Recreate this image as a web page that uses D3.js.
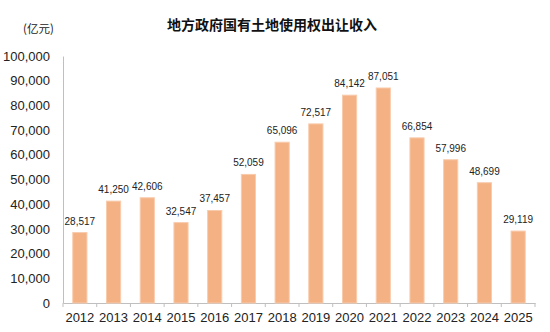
<!DOCTYPE html>
<html><head><meta charset="utf-8">
<script src="https://cdn.jsdelivr.net/npm/d3@7"></script>
<style>body{margin:0;background:#fff}svg{display:block}</style>
</head><body>
<script>
const years = ["2012","2013","2014","2015","2016","2017","2018","2019","2020","2021","2022","2023","2024","2025"];
const values = [28517,41250,42606,32547,37457,52059,65096,72517,84142,87051,66854,57996,48699,29119];
const yTicks = [0,10000,20000,30000,40000,50000,60000,70000,80000,90000,100000];
const title = "地方政府国有土地使用权出让收入";
const unit = "(亿元)";

const W=550,H=332;
const svg=d3.select("body").append("svg").attr("width",W).attr("height",H);
const x=d3.scaleBand().domain(years).range([63,535]).paddingInner(0.58).paddingOuter(0.29);
const y=d3.scaleLinear().domain([0,100000]).range([303,56]);
const font="Arial, 'Liberation Sans', sans-serif";
const cjk="'Noto Sans CJK SC', sans-serif";

svg.append("text").attr("x",272).attr("y",30).attr("text-anchor","middle")
  .attr("font-family",cjk).attr("font-weight","bold").attr("font-size",14).attr("fill","#111").text(title);
svg.append("text").attr("x",23).attr("y",33)
  .attr("font-family",cjk).attr("font-size",11.5).attr("fill","#222").text(unit);

// y axis
const ya=svg.append("g").attr("transform","translate(63,0)")
  .call(d3.axisLeft(y).tickValues(yTicks).tickSize(0).tickPadding(13).tickFormat(d3.format(",")));
ya.select(".domain").attr("stroke","#bfbfbf");
ya.selectAll("text").attr("font-family",font).attr("font-size",13).attr("fill","#222");

// x axis
const xa=svg.append("g").attr("transform","translate(0,303)")
  .call(d3.axisBottom(x).tickSize(0).tickPadding(10));
xa.select(".domain").attr("stroke","#bfbfbf");
xa.selectAll("text").attr("font-family",font).attr("font-size",13).attr("fill","#222");
const step=x.step();
xa.selectAll(".sep").data(d3.range(years.length+1)).enter().append("line")
  .attr("x1",i=>63+i*step).attr("x2",i=>63+i*step).attr("y1",0).attr("y2",4).attr("stroke","#bfbfbf");

svg.selectAll(".bar").data(years).enter().append("rect")
  .attr("x",d=>x(d)).attr("width",x.bandwidth())
  .attr("y",(d,i)=>y(values[i])).attr("height",(d,i)=>y(0)-y(values[i]))
  .attr("fill","#F4B183").attr("stroke","#F8CBAD").attr("stroke-width",1);

svg.selectAll(".lbl").data(years).enter().append("text")
  .attr("x",d=>x(d)+x.bandwidth()/2).attr("y",(d,i)=>y(values[i])-8)
  .attr("text-anchor","middle").attr("font-family",font).attr("font-size",10).attr("fill","#222")
  .text((d,i)=>d3.format(",")(values[i]));
</script>
</body></html>
